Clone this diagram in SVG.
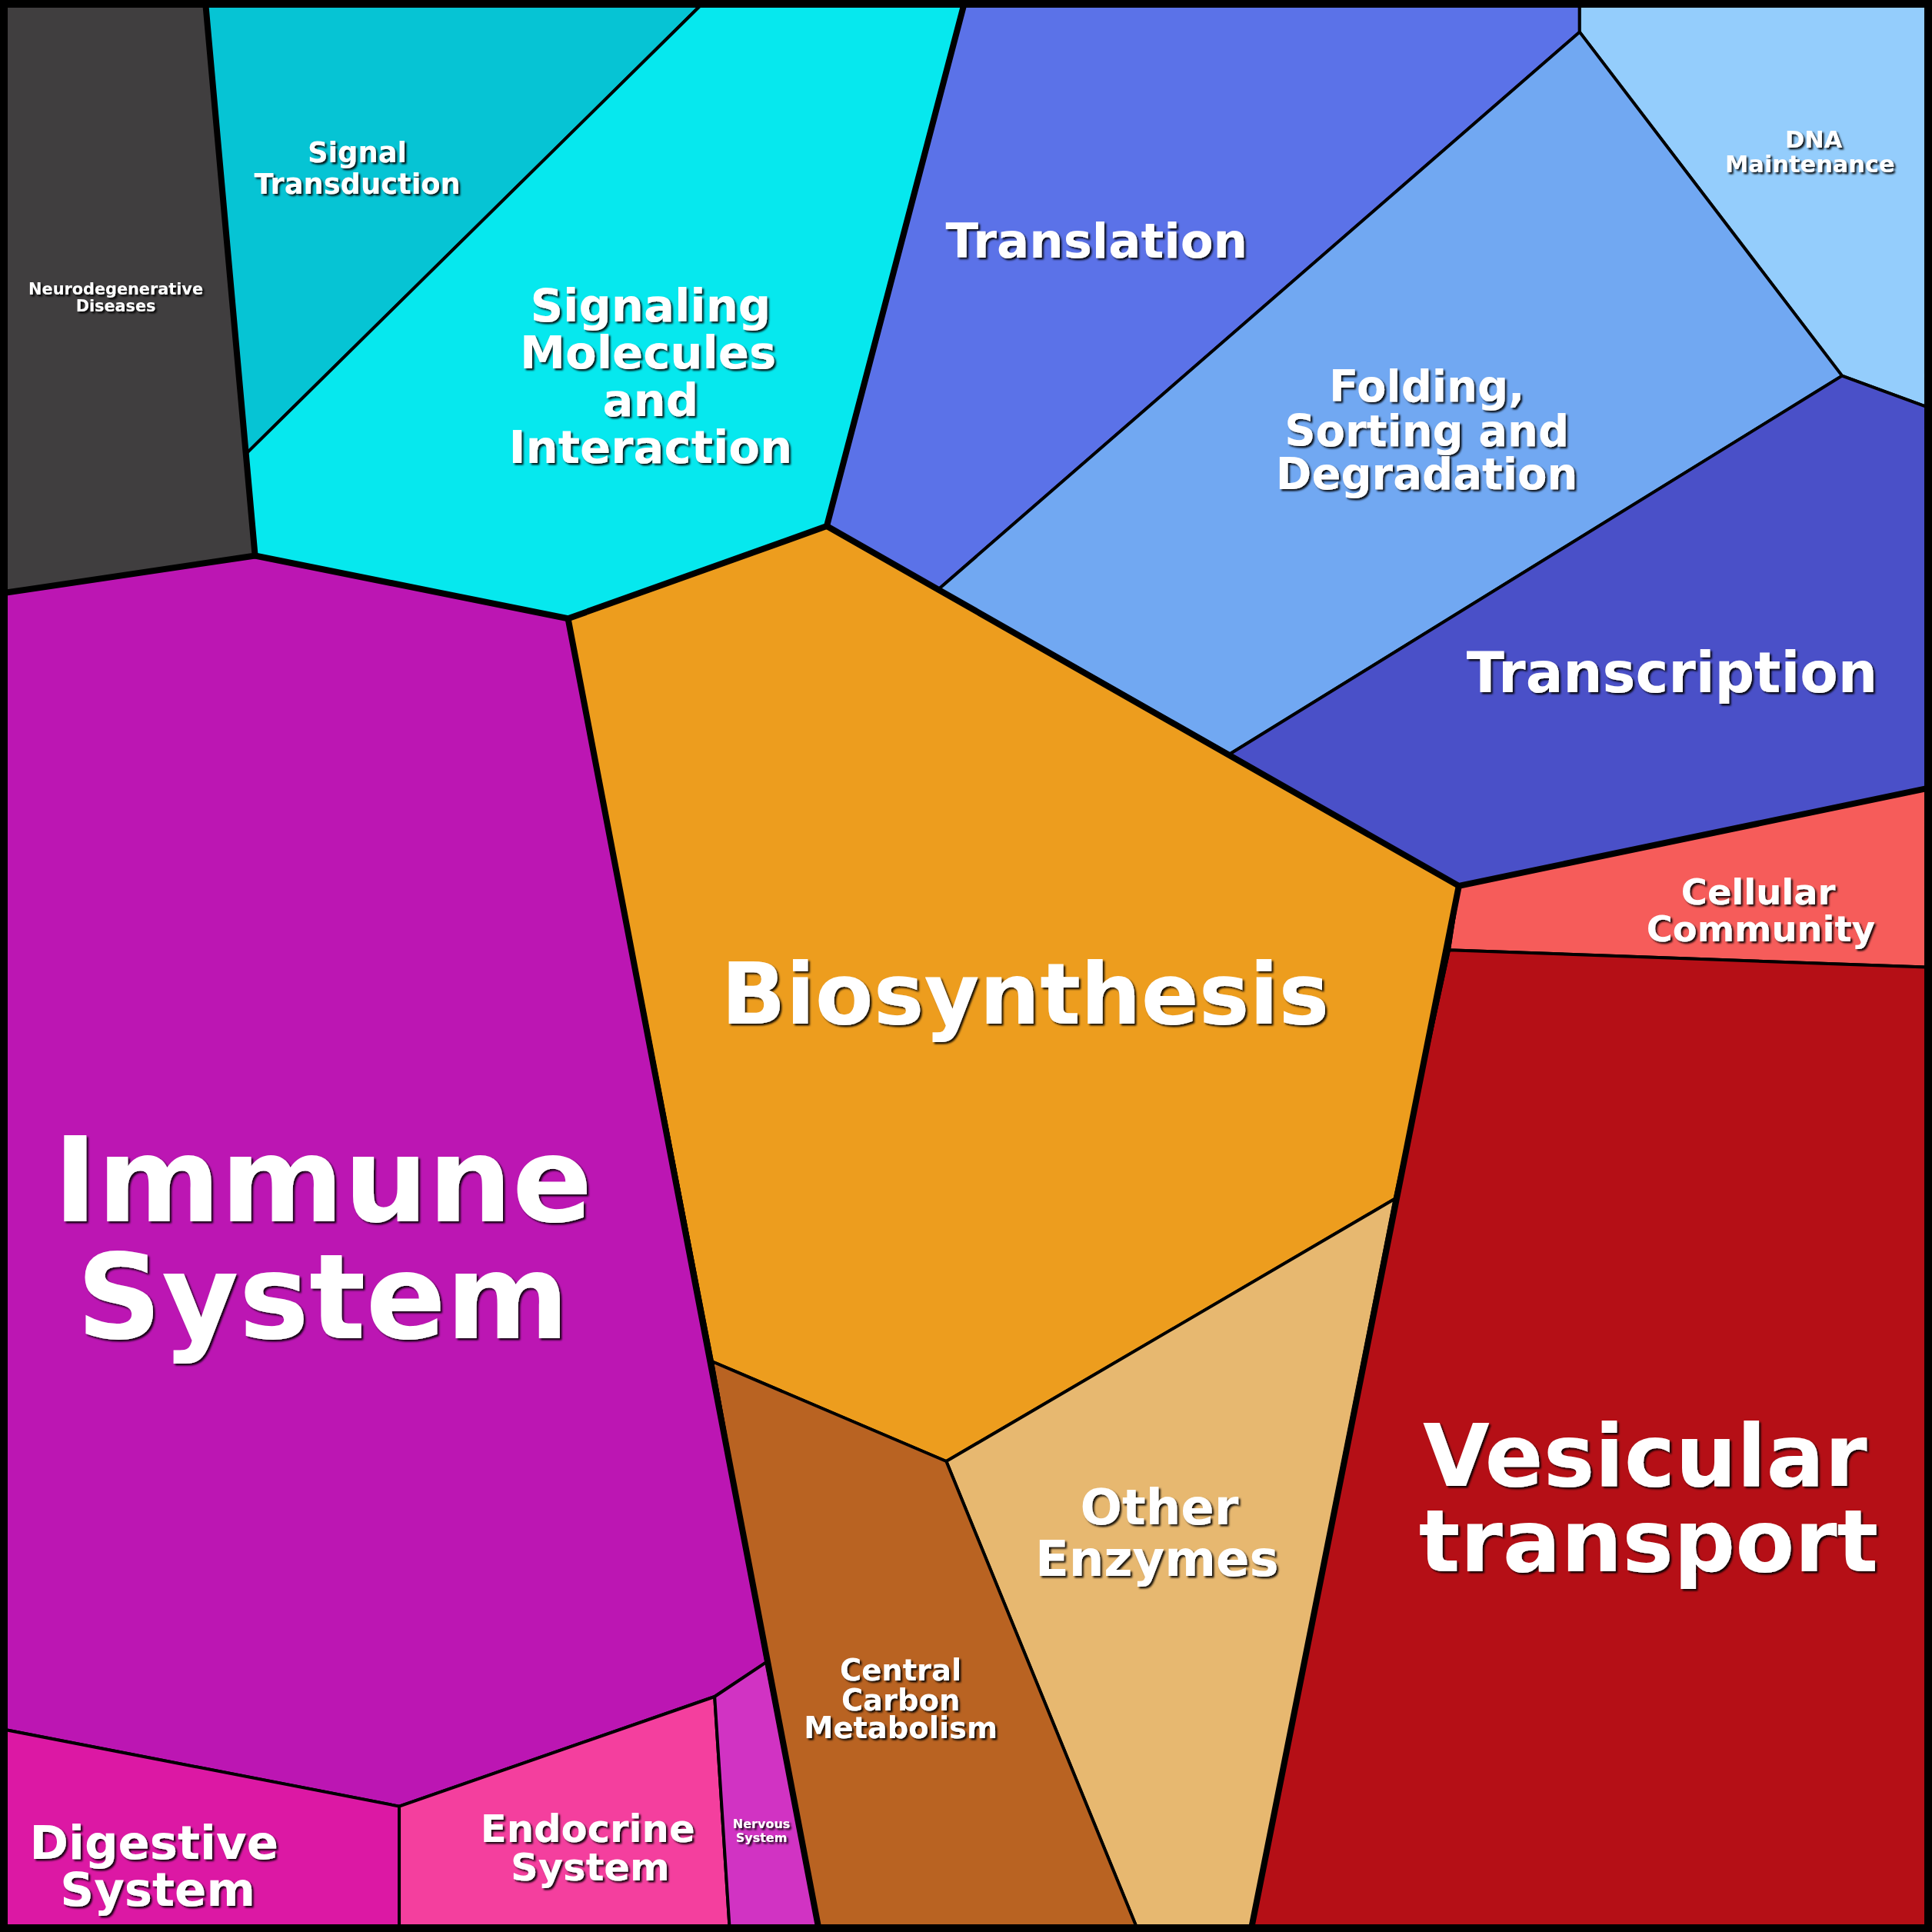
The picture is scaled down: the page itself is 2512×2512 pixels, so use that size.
<svg xmlns="http://www.w3.org/2000/svg" width="2512" height="2512" viewBox="0 0 2512 2512">
<defs><filter id="sh" x="-10%" y="-10%" width="120%" height="130%"><feDropShadow dx="1.5" dy="1.5" stdDeviation="0.6" flood-color="#000" flood-opacity="0.9"/></filter>
<style>
.t{font-family:"DejaVu Sans",sans-serif;font-weight:bold;fill:#fff;text-anchor:middle;filter:url(#sh)}
.c polygon{stroke:#000;stroke-width:2.5;stroke-linejoin:round}
.k{stroke:#000;stroke-width:5;fill:none;stroke-linejoin:round;stroke-linecap:round}
</style></defs>
<g transform="scale(1.60204)">
<g class="c">
<g id="neuro"><polygon points="5,5 167,5 207,451 5,481" fill="#403e3f"/><text class="t" font-size="13"><tspan x="94" y="239">Neurodegenerative</tspan><tspan x="94" y="253">Diseases</tspan></text></g>
<g id="sigtrans"><polygon points="167,5 568,5 200,368" fill="#06c4d4"/><text class="t" font-size="23"><tspan x="290" y="132">Signal</tspan><tspan x="290" y="157">Transduction</tspan></text></g>
<g id="sigmol"><polygon points="568,5 782,5 671,427 461,502 207,451 200,368" fill="#06e8ee"/><text class="t" font-size="37"><tspan x="528" y="261">Signaling</tspan><tspan x="526" y="299">Molecules</tspan><tspan x="528" y="338">and</tspan><tspan x="528" y="376">Interaction</tspan></text></g>
<g id="translation"><polygon points="782,5 1282,5 1282,26 762,478 671,427" fill="#5b72e8"/><text class="t" font-size="39" x="890" y="209">Translation</text></g>
<g id="dna"><polygon points="1282,5 1563,5 1563,330 1495,305 1282,26" fill="#94cdfc"/><text class="t" font-size="19"><tspan x="1472" y="120">DNA</tspan><tspan x="1469" y="140">Maintenance</tspan></text></g>
<g id="folding"><polygon points="1282,26 1495,305 998,612 762,478" fill="#71a8f2"/><text class="t" font-size="35"><tspan x="1158" y="326">Folding,</tspan><tspan x="1158" y="362">Sorting and</tspan><tspan x="1158" y="397">Degradation</tspan></text></g>
<g id="transcription"><polygon points="1495,305 1563,330 1563,640 1184,719 998,612" fill="#4a50c8"/><text class="t" font-size="45" x="1357" y="562">Transcription</text></g>
<g id="cellcomm"><polygon points="1184,719 1563,640 1563,785 1176,771" fill="#f65c5a"/><text class="t" font-size="29"><tspan x="1427" y="734">Cellular</tspan><tspan x="1429" y="764">Community</tspan></text></g>
<g id="vesicular"><polygon points="1176,771 1563,785 1563,1563 1016,1563 1132,973" fill="#b50f16"/><text class="t" font-size="70"><tspan x="1335" y="1206">Vesicular</tspan><tspan x="1338" y="1275">transport</tspan></text></g>
<g id="biosynthesis"><polygon points="461,502 671,427 762,478 998,612 1184,719 1176,771 1132,973 768,1186 578,1105" fill="#ed9d1e"/><text class="t" font-size="69" x="832" y="831">Biosynthesis</text></g>
<g id="otherenz"><polygon points="768,1186 1132,973 1016,1563 922,1563" fill="#e7b870"/><text class="t" font-size="40"><tspan x="941" y="1237">Other</tspan><tspan x="939" y="1279">Enzymes</tspan></text></g>
<g id="central"><polygon points="578,1105 768,1186 922,1563 664,1563 622,1349" fill="#b96322"/><text class="t" font-size="24"><tspan x="731" y="1364">Central</tspan><tspan x="731" y="1388">Carbon</tspan><tspan x="731" y="1411">Metabolism</tspan></text></g>
<g id="immune"><polygon points="5,481 207,451 461,502 578,1105 622,1349 580,1377 324,1466 5,1404" fill="#bc16b3"/><text class="t" font-size="96"><tspan x="262" y="991">Immune</tspan><tspan x="262" y="1086">System</tspan></text></g>
<g id="digestive"><polygon points="5,1404 324,1466 324,1563 5,1563" fill="#dc18a4"/><text class="t" font-size="38"><tspan x="125" y="1509">Digestive</tspan><tspan x="128" y="1547">System</tspan></text></g>
<g id="endocrine"><polygon points="324,1466 580,1377 592,1563 324,1563" fill="#f43f9e"/><text class="t" font-size="31"><tspan x="477" y="1495">Endocrine</tspan><tspan x="479" y="1526">System</tspan></text></g>
<g id="nervous"><polygon points="580,1377 622,1349 664,1563 592,1563" fill="#d133c3"/><text class="t" font-size="10"><tspan x="618" y="1484">Nervous</tspan><tspan x="618" y="1495">System</tspan></text></g>
</g>
<g id="connectors">
<polyline class="k" points="167,5 207,451 5,481"/>
<polyline class="k" points="207,451 461,502 671,427 782,5"/>
<polyline class="k" points="671,427 1184,719 1563,640"/>
<polyline class="k" points="1184,719 1016,1563"/>
<polyline class="k" points="461,502 664,1563"/>
<rect x="3" y="3" width="1562" height="1562" fill="none" stroke="#000" stroke-width="6"/>
</g>
</g>
</svg>
